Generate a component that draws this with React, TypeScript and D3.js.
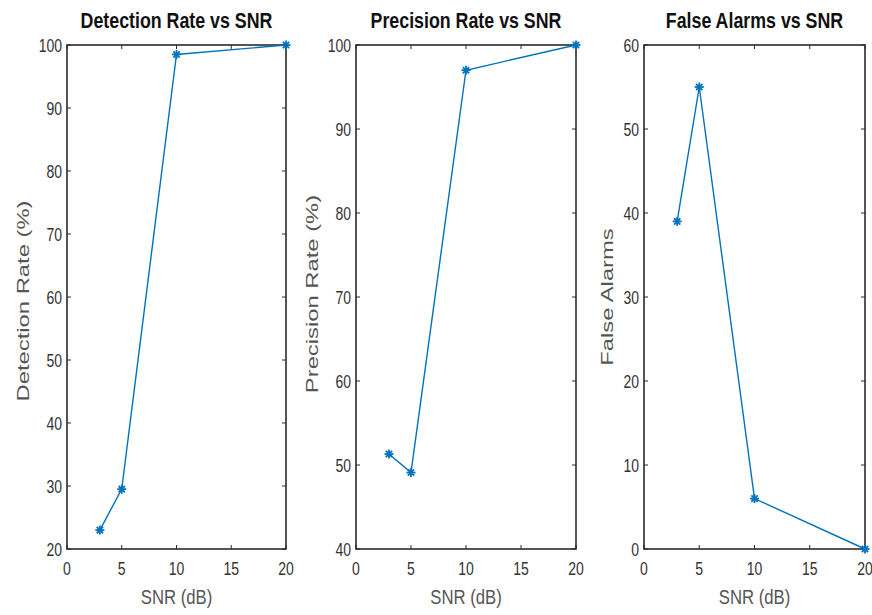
import React from "react";
import * as d3 from "d3";

const snr = [3, 5, 10, 20];
const detectionRate = [23, 29.5, 98.5, 100];
const precisionRate = [51.3, 49.1, 97, 100];
const falseAlarms = [39, 55, 6, 0];

const xTicks = [0, 5, 10, 15, 20];
const detTicks = [20, 30, 40, 50, 60, 70, 80, 90, 100];
const precTicks = [40, 50, 60, 70, 80, 90, 100];
const faTicks = [0, 10, 20, 30, 40, 50, 60];

const panels = [
  { title: "Detection Rate vs SNR", ylabel: "Detection Rate (%)", values: detectionRate, ydomain: [20, 100], yticks: detTicks, left: 67, right: 286, ylabX: 29, ylabY: 301 },
  { title: "Precision Rate vs SNR", ylabel: "Precision Rate (%)", values: precisionRate, ydomain: [40, 100], yticks: precTicks, left: 356, right: 576, ylabX: 318, ylabY: 294 },
  { title: "False Alarms vs SNR", ylabel: "False Alarms", values: falseAlarms, ydomain: [0, 60], yticks: faTicks, left: 644, right: 865, ylabX: 613, ylabY: 297 },
];

const TOP = 45;
const BOTTOM = 549;
const COLOR = "#0072BD";
const AXIS = "#2b2b2b";
const FONT = "'Liberation Sans', Arial, sans-serif";
const SY = 1.3;

function Star({ x, y }: { x: number; y: number }) {
  const r = 4.5;
  const d = r * 0.7;
  return (
    <g stroke={COLOR} strokeWidth={1.8}>
      <line x1={x - r} y1={y} x2={x + r} y2={y} />
      <line x1={x} y1={y - r} x2={x} y2={y + r} />
      <line x1={x - d} y1={y - d} x2={x + d} y2={y + d} />
      <line x1={x - d} y1={y + d} x2={x + d} y2={y - d} />
    </g>
  );
}

function Panel({ p }: { p: (typeof panels)[number] }) {
  const x = d3.scaleLinear().domain([0, 20]).range([p.left, p.right]);
  const y = d3.scaleLinear().domain(p.ydomain).range([BOTTOM, TOP]);
  const pts: [number, number][] = snr.map((s, i) => [s, p.values[i]]);
  const line = d3.line<[number, number]>().x((d) => x(d[0])).y((d) => y(d[1]));
  const tl = 4;
  const cx = (p.left + p.right) / 2;
  return (
    <g>
      <rect x={p.left} y={TOP} width={p.right - p.left} height={BOTTOM - TOP} fill="white" stroke={AXIS} strokeWidth={1.6} />
      {xTicks.map((t) => (
        <g key={"x" + t}>
          <line x1={x(t)} x2={x(t)} y1={BOTTOM} y2={BOTTOM - tl} stroke={AXIS} />
          <line x1={x(t)} x2={x(t)} y1={TOP} y2={TOP + tl} stroke={AXIS} />
          <text transform={`translate(${x(t)},${BOTTOM + 26}) scale(1,${SY})`} textAnchor="middle" fontSize={14} fill="#333" fontFamily={FONT}>{t}</text>
        </g>
      ))}
      {p.yticks.map((t) => (
        <g key={"y" + t}>
          <line x1={p.left} x2={p.left + tl} y1={y(t)} y2={y(t)} stroke={AXIS} />
          <line x1={p.right} x2={p.right - tl} y1={y(t)} y2={y(t)} stroke={AXIS} />
          <text transform={`translate(${p.left - 5},${y(t) + 6.5}) scale(1,${SY})`} textAnchor="end" fontSize={14} fill="#333" fontFamily={FONT}>{t}</text>
        </g>
      ))}
      <path d={line(pts) || ""} fill="none" stroke={COLOR} strokeWidth={1.4} />
      {pts.map((d, i) => (
        <Star key={i} x={x(d[0])} y={y(d[1])} />
      ))}
      <text transform={`translate(${cx},28) scale(1,1.2)`} textAnchor="middle" fontSize={17.8} fontWeight="bold" fill="#111" fontFamily={FONT}>{p.title}</text>
      <text transform={`translate(${cx},604) scale(1,1.25)`} textAnchor="middle" fontSize={16.7} fill="#555" fontFamily={FONT}>SNR (dB)</text>
      <text transform={`translate(${p.ylabX},${p.ylabY}) rotate(-90) scale(1.4,1)`} textAnchor="middle" fontSize={17} fill="#555" fontFamily={FONT}>{p.ylabel}</text>
    </g>
  );
}

export default function App() {
  return (
    <svg width={872} height={615} style={{ position: "absolute", left: 0, top: 0, background: "white" }}>
      <rect width={872} height={615} fill="white" />
      {panels.map((p) => (
        <Panel key={p.title} p={p} />
      ))}
    </svg>
  );
}
